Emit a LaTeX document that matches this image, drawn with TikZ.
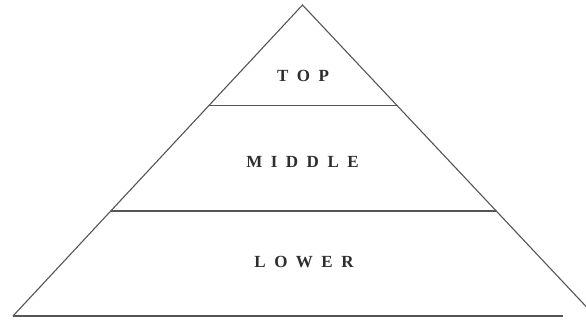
\documentclass[tikz,border=0pt]{standalone}
\usepackage{fontspec}
\usetikzlibrary{calc}
\setmainfont{Liberation Serif}
\definecolor{linegray}{HTML}{555555}
\definecolor{textgray}{HTML}{2E2E2E}
\newcommand{\spc}{\kern8.5pt}
\begin{document}
\begin{tikzpicture}[x=1pt,y=-1pt,
  edge/.style={draw=linegray,line width=1.1pt},
  label/.style={text=textgray,font=\fontsize{17}{17}\selectfont\bfseries,inner sep=0pt,anchor=center}]
\useasboundingbox (0,0) rectangle (586,321);
\clip (0,0) rectangle (586,321);
\coordinate (apex) at (302.5,5);
\coordinate (bl) at (13,316);
\coordinate (br) at (595,316);
\coordinate (be) at (563,316);
\coordinate (t1) at ($(apex)!{100.5/311}!(bl)$);
\coordinate (t2) at ($(apex)!{100.5/311}!(br)$);
\coordinate (m1) at ($(apex)!{206/311}!(bl)$);
\coordinate (m2) at ($(apex)!{206/311}!(br)$);
\draw[edge] (bl) -- (apex) -- (br);
\draw[edge] (bl) -- (be);
\draw[edge] (t1) -- (t2);
\draw[edge] (m1) -- (m2);
\node[label] (top) at (303,75.5) {T\spc O\spc P};
\node[label] (mid) at (302.5,161.5) {M\spc I\spc D\spc D\spc L\spc E};
\node[label] (low) at (304,261.5) {L\spc O\spc W\spc E\spc R};
\end{tikzpicture}
\end{document}
